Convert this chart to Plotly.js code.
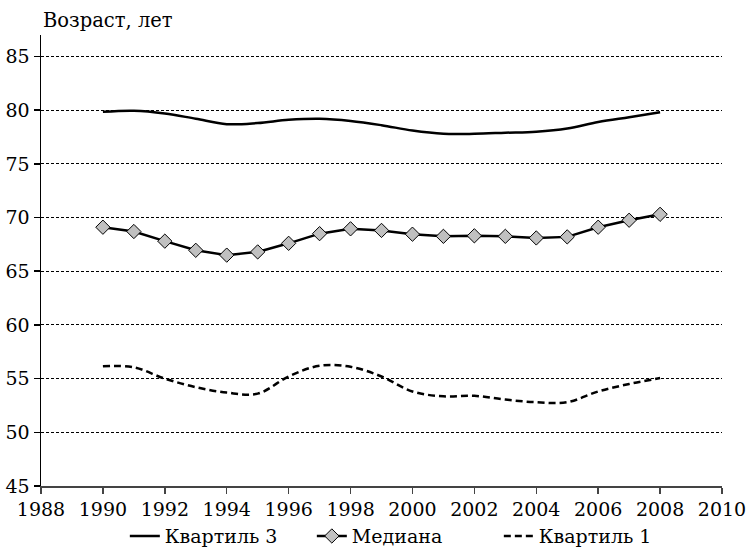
<!DOCTYPE html>
<html>
<head>
<meta charset="utf-8">
<script src="https://cdn.plot.ly/plotly-3.0.1.min.js"></script>
<style>html,body{margin:0;padding:0;background:#fff}#chart{width:750px;height:554px}</style>
</head>
<body>
<div id="chart"></div>
<script>
const years = [1990,1991,1992,1993,1994,1995,1996,1997,1998,1999,2000,2001,2002,2003,2004,2005,2006,2007,2008];
const quartile3 = [79.85,79.95,79.7,79.2,78.7,78.8,79.1,79.2,79.0,78.6,78.1,77.8,77.8,77.9,78.0,78.3,78.9,79.35,79.8];
const median = [69.1,68.7,67.8,66.95,66.5,66.8,67.6,68.5,68.95,68.8,68.45,68.25,68.3,68.25,68.1,68.2,69.1,69.75,70.3];
const quartile1 = [56.15,56.05,55.0,54.2,53.7,53.6,55.2,56.2,56.1,55.2,53.8,53.35,53.4,53.05,52.8,52.8,53.8,54.5,55.05];
const seriesNames = ["Квартиль 3","Медиана","Квартиль 1"];
const yTitle = "Возраст, лет";

const font = {family:"DejaVu Serif", size:19, color:"#000"};
const titleFont = {family:"DejaVu Serif", size:19.5, color:"#000"};

const traces = [
  {x:years, y:quartile3, name:seriesNames[0], type:"scatter", mode:"lines",
   line:{color:"#000", width:2.5, shape:"spline", smoothing:1}},
  {x:years, y:median, name:seriesNames[1], type:"scatter", mode:"lines+markers",
   line:{color:"#000", width:2.5},
   marker:{symbol:"diamond", size:11, color:"#c0c0c0", line:{color:"#000", width:1}}},
  {x:years, y:quartile1, name:seriesNames[2], type:"scatter", mode:"lines",
   line:{color:"#000", width:2.5, dash:"7px,4px", shape:"spline", smoothing:1}}
];

const layout = {
  width:750, height:554,
  margin:{l:41, r:28, t:35, b:68, autoexpand:false},
  paper_bgcolor:"#fff", plot_bgcolor:"#fff",
  font:font,
  showlegend:true,
  legend:{orientation:"h", x:0.535, xanchor:"center", y:-0.069, yanchor:"top",
    font:font, traceorder:"normal", entrywidth:142},
  xaxis:{range:[1988,2010], dtick:2, tick0:1988, showgrid:false, zeroline:false,
    showline:true, linecolor:"#444", linewidth:1.5, ticks:"outside", ticklen:6,
    tickcolor:"#444", tickwidth:1.5, tickfont:font},
  yaxis:{range:[45,87], tickvals:[45,50,55,60,65,70,75,80,85], showgrid:true,
    gridcolor:"#000", gridwidth:1, griddash:"3px,2px", zeroline:false,
    showline:true, linecolor:"#000", linewidth:1.5, ticks:"outside", ticklen:6,
    tickcolor:"#000", tickwidth:1.5, tickfont:font},
  annotations:[{text:yTitle, xref:"paper", yref:"paper", x:0, y:1, xanchor:"left",
    yanchor:"bottom", yshift:1, showarrow:false, font:titleFont}]
};

Plotly.newPlot("chart", traces, layout, {staticPlot:true, displayModeBar:false});
</script>
</body>
</html>
